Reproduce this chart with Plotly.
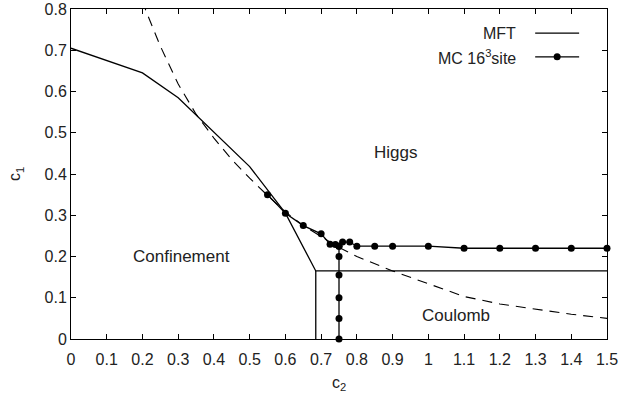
import plotly.graph_objects as go

# MFT phase boundary (solid)
mft_c2 = [0.0, 0.2, 0.3, 0.4, 0.5, 0.6, 0.685, 1.5, None, 0.685, 0.685]
mft_c1 = [0.705, 0.645, 0.585, 0.502, 0.418, 0.305, 0.165, 0.165, None, 0.165, 0.0]

# MC 16^3 site points
mc_c2 = [0.55, 0.6, 0.65, 0.70, 0.725, 0.74, 0.75, 0.76, 0.78, 0.80, 0.85, 0.90, 1.0, 1.1, 1.2, 1.3, 1.4, 1.5,
         None, 0.75, 0.75, 0.75, 0.75, 0.75, 0.75]
mc_c1 = [0.35, 0.305, 0.275, 0.255, 0.23, 0.229, 0.225, 0.235, 0.235, 0.225, 0.225, 0.225, 0.225, 0.22, 0.22, 0.22, 0.22, 0.22,
         None, 0.225, 0.2, 0.155, 0.1, 0.05, 0.0]

# dashed curve
dash_c2 = [0.2, 0.21, 0.25, 0.3, 0.35, 0.4, 0.45, 0.5, 0.55, 0.6, 0.65, 0.7, 0.75, 0.8, 0.9, 1.0, 1.1, 1.2, 1.3, 1.4, 1.5]
dash_c1 = [0.82, 0.795, 0.71, 0.618, 0.545, 0.487, 0.435, 0.39, 0.348, 0.308, 0.275, 0.248, 0.222, 0.2, 0.165, 0.134, 0.103, 0.085, 0.072, 0.06, 0.05]

x_ticks = [0, 0.1, 0.2, 0.3, 0.4, 0.5, 0.6, 0.7, 0.8, 0.9, 1, 1.1, 1.2, 1.3, 1.4, 1.5]
x_tick_labels = ["0", "0.1", "0.2", "0.3", "0.4", "0.5", "0.6", "0.7", "0.8", "0.9", "1", "1.1", "1.2", "1.3", "1.4", "1.5"]
y_ticks = [0, 0.1, 0.2, 0.3, 0.4, 0.5, 0.6, 0.7, 0.8]
y_tick_labels = ["0", "0.1", "0.2", "0.3", "0.4", "0.5", "0.6", "0.7", "0.8"]

region_labels = ["Higgs", "Confinement", "Coulomb"]
region_c2 = [0.907, 0.309, 1.078]
region_c1 = [0.452, 0.201, 0.056]

FONT = "Liberation Sans, Arial, sans-serif"
FS = 16
TXT = "#222"

fig = go.Figure()
fig.add_trace(go.Scatter(x=dash_c2, y=dash_c1, mode="lines",
                         line=dict(color="black", width=1.1, dash="10px,7px"), showlegend=False))
fig.add_trace(go.Scatter(x=mft_c2, y=mft_c1, mode="lines", name="MFT",
                         line=dict(color="black", width=1.3), showlegend=False))
fig.add_trace(go.Scatter(x=mc_c2, y=mc_c1, mode="lines+markers", name="MC 16<sup>3</sup>site",
                         line=dict(color="black", width=1.3),
                         marker=dict(color="black", size=7), showlegend=False, cliponaxis=False))

for t, x, y in zip(region_labels, region_c2, region_c1):
    fig.add_annotation(x=x, y=y, text=t, showarrow=False, xanchor="center", yanchor="middle",
                       font=dict(family=FONT, size=17, color=TXT))

# manual legend (text on left, sample on right)
leg_text = ["MFT", "MC 16<sup>3</sup>site"]
leg_y = [0.927, 0.855]
for t, y in zip(leg_text, leg_y):
    fig.add_annotation(xref="paper", yref="paper", x=0.834, y=y, text=t, showarrow=False,
                       xanchor="right", yanchor="middle", font=dict(family=FONT, size=FS, color=TXT))
    fig.add_shape(type="line", xref="paper", yref="paper", x0=0.866, x1=0.948, y0=y, y1=y,
                  line=dict(color="black", width=1.3))
fig.add_shape(type="circle", xref="paper", yref="paper", xsizemode="pixel", ysizemode="pixel",
              xanchor=0.907, yanchor=leg_y[1], x0=-3.5, x1=3.5, y0=-3.5, y1=3.5,
              fillcolor="black", line=dict(color="black", width=0))

axis_common = dict(showgrid=False, zeroline=False, showline=True, linecolor="black", linewidth=1,
                   ticks="inside", ticklen=5, tickcolor="black", mirror="allticks", automargin=False,
                   tickfont=dict(family=FONT, size=FS, color=TXT))
fig.update_xaxes(range=[0, 1.5], tickvals=x_ticks, ticktext=x_tick_labels, ticklabelstandoff=6,
                 title=dict(text="c<sub>2</sub>", font=dict(family=FONT, size=FS, color=TXT), standoff=9),
                 **axis_common)
fig.update_yaxes(range=[0, 0.8], tickvals=y_ticks, ticktext=y_tick_labels,
                 title=dict(text="c<sub>1</sub>", font=dict(family=FONT, size=FS, color=TXT), standoff=19),
                 **axis_common)
fig.update_layout(width=619, height=401, margin=dict(l=71, r=12, t=9, b=62),
                  plot_bgcolor="white", paper_bgcolor="white", showlegend=False)
fig.write_html("out.html", config={"displayModeBar": False},
               post_script="document.body.style.margin='0';")
